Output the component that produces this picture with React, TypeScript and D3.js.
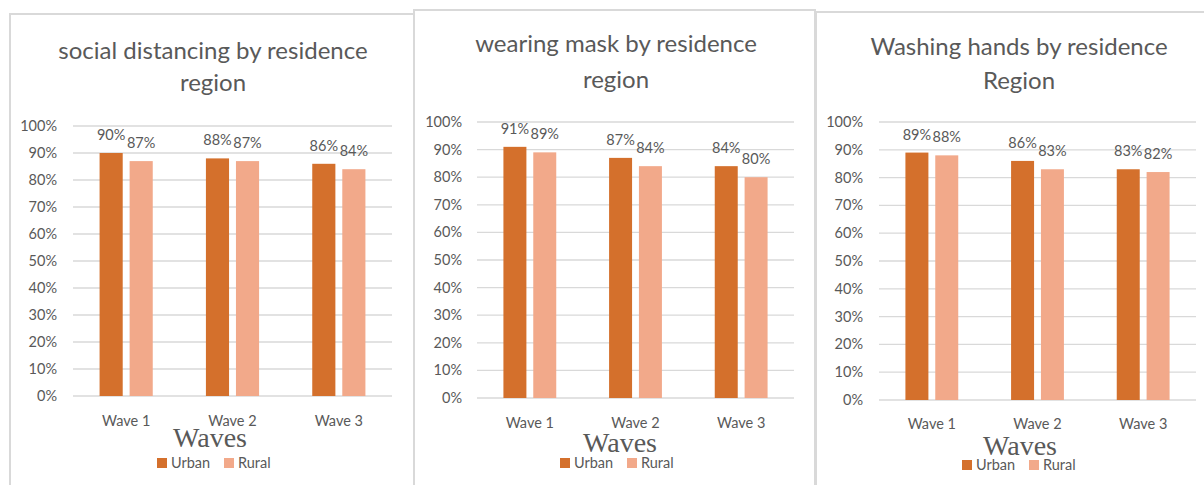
import React from "react";
import * as d3 from "d3";

const categories = ["Wave 1", "Wave 2", "Wave 3"];
const seriesNames = ["Urban", "Rural"];
const yTicks = [0, 10, 20, 30, 40, 50, 60, 70, 80, 90, 100];

const distancingUrban = [90, 88, 86];
const distancingRural = [87, 87, 84];
const maskUrban = [91, 87, 84];
const maskRural = [89, 84, 80];
const handsUrban = [89, 86, 83];
const handsRural = [88, 83, 82];

const titles = [
  ["social distancing by residence", "region"],
  ["wearing mask by residence", "region"],
  ["Washing hands by residence", "Region"],
];

const COLORS = ["#D4702C", "#F2A98A"];
const GRAY = "#595959";
const SANS = "Lato, 'Open Sans', sans-serif";

const panels = [
  {
    title: titles[0], urban: distancingUrban, rural: distancingRural,
    box: { x: 10, y: 14, w: 406 },
    plot: { x0: 73, x1: 392, yTop: 126, yBot: 396 }, tickX: 57,
    titleCx: 213, titleBase: [59, 91], catBase: 426,
    wavesCx: 210, wavesBase: 447, legX: 157, legY: 458,
  },
  {
    title: titles[1], urban: maskUrban, rural: maskRural,
    box: { x: 414, y: 10, w: 401 },
    plot: { x0: 477, x1: 794, yTop: 122, yBot: 398 }, tickX: 462,
    titleCx: 616, titleBase: [52, 88], catBase: 428,
    wavesCx: 620, wavesBase: 452, legX: 560, legY: 458,
  },
  {
    title: titles[2], urban: handsUrban, rural: handsRural,
    box: { x: 816, y: 12, w: 412 },
    plot: { x0: 879, x1: 1196, yTop: 122, yBot: 400 }, tickX: 863,
    titleCx: 1019, titleBase: [55, 89], catBase: 429,
    wavesCx: 1020, wavesBase: 455, legX: 962, legY: 460,
  },
];

function Panel({ p }: { p: (typeof panels)[number] }) {
  const x0 = d3.scaleBand<string>().domain(categories).range([p.plot.x0, p.plot.x1]).padding(0);
  const groupW = x0.bandwidth() * 0.5;
  const x1 = d3.scaleBand<string>().domain(seriesNames).range([0, groupW]).paddingInner(0.23).paddingOuter(0);
  const y = d3.scaleLinear().domain([0, 100]).range([p.plot.yBot, p.plot.yTop]);
  const values = [p.urban, p.rural];
  return (
    <g>
      <rect x={p.box.x} y={p.box.y} width={p.box.w} height={520} fill="#fff" stroke="#d9d9d9" strokeWidth={2} />
      {p.title.map((t, i) => (
        <text key={i} x={p.titleCx} y={p.titleBase[i]} textAnchor="middle" fontFamily={SANS} fontSize={24} fill={GRAY}>
          {t}
        </text>
      ))}
      {yTicks.map((t) => (
        <g key={t}>
          <line x1={p.plot.x0} x2={p.plot.x1} y1={y(t)} y2={y(t)} stroke="#d9d9d9" strokeWidth={1.3} />
          <text x={p.tickX} y={y(t)} dy="0.35em" textAnchor="end" fontFamily={SANS} fontSize={14.5} fill={GRAY}>
            {t}%
          </text>
        </g>
      ))}
      {categories.map((c, ci) => {
        const gx = (x0(c) as number) + (x0.bandwidth() - groupW) / 2;
        return (
          <g key={c}>
            {seriesNames.map((s, si) => {
              const v = values[si][ci];
              const bx = gx + (x1(s) as number);
              return (
                <g key={s}>
                  <rect x={bx} y={y(v)} width={x1.bandwidth()} height={y(0) - y(v)} fill={COLORS[si]} />
                  <text x={bx + x1.bandwidth() / 2} y={y(v) - 13} textAnchor="middle" fontFamily={SANS} fontSize={14.5} fill={GRAY}>
                    {v}%
                  </text>
                </g>
              );
            })}
            <text x={(x0(c) as number) + x0.bandwidth() / 2} y={p.catBase} textAnchor="middle" fontFamily={SANS} fontSize={14.5} fill={GRAY}>
              {c}
            </text>
          </g>
        );
      })}
      <text x={p.wavesCx} y={p.wavesBase} textAnchor="middle" fontFamily="'Liberation Serif', 'Times New Roman', serif" fontSize={28} fill={GRAY}>
        Waves
      </text>
      {seriesNames.map((s, si) => (
        <g key={s} transform={`translate(${p.legX + si * 67},${p.legY})`}>
          <rect x={0} y={0} width={10} height={10} fill={COLORS[si]} />
          <text x={14} y={9.5} fontFamily={SANS} fontSize={14.5} fill={GRAY}>
            {s}
          </text>
        </g>
      ))}
    </g>
  );
}

export default function App() {
  return (
    <svg width={1204} height={485} style={{ position: "absolute", left: 0, top: 0, background: "#fff" }}>
      {panels.map((p, i) => (
        <Panel key={i} p={p} />
      ))}
    </svg>
  );
}
